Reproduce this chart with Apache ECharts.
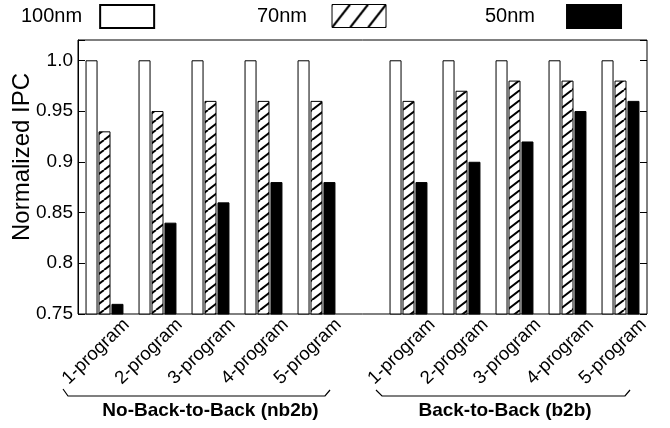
<!DOCTYPE html>
<html><head><meta charset="utf-8">
<script src="https://cdn.jsdelivr.net/npm/echarts@6/dist/echarts.min.js"></script>
<style>html,body{margin:0;padding:0;background:#fff}#c{width:670px;height:428px}</style>
</head><body><div id="c"></div>
<script>
// ---- data ----
const categories = ['1-program', '2-program', '3-program', '4-program', '5-program'];
const groupLabels = ['No-Back-to-Back (nb2b)', 'Back-to-Back (b2b)'];
const seriesNames = ['100nm', '70nm', '50nm'];
const nb2b_100nm = [1.00, 1.00, 1.00, 1.00, 1.00];
const nb2b_70nm  = [0.93, 0.95, 0.96, 0.96, 0.96];
const nb2b_50nm  = [0.76, 0.84, 0.86, 0.88, 0.88];
const b2b_100nm  = [1.00, 1.00, 1.00, 1.00, 1.00];
const b2b_70nm   = [0.96, 0.97, 0.98, 0.98, 0.98];
const b2b_50nm   = [0.88, 0.90, 0.92, 0.95, 0.96];
const yTickLabels = ['0.75', '0.8', '0.85', '0.9', '0.95', '1.0'];
const yName = 'Normalized IPC';
const yMin = 0.75, yMax = 1.02, yStep = 0.05;

// ---- styles ----
const FONT = 'Liberation Sans';
function hatch(w, h, lw) {
  const c = document.createElement('canvas'); c.width = w; c.height = h;
  const g = c.getContext('2d');
  g.fillStyle = '#fff'; g.fillRect(0, 0, w, h);
  g.strokeStyle = '#000'; g.lineWidth = lw;
  for (const dx of [-w, 0, w]) { g.beginPath(); g.moveTo(dx, h); g.lineTo(dx + w, 0); g.stroke(); }
  return c;
}
const barHatch = { image: hatch(13, 10, 2), repeat: 'repeat' };
const legendHatch = { image: hatch(18, 23, 2.2), repeat: 'repeat' };
const styles = [
  { color: '#fff', borderColor: '#000', borderWidth: 1 },
  { color: barHatch, borderColor: '#000', borderWidth: 1 },
  { color: '#000', borderColor: '#000', borderWidth: 1 }
];

const chart = echarts.init(document.getElementById('c'), null, { renderer: 'canvas' });

const G = { top: 40, bottom: 114 };
const grids = [
  { left: 78, width: 265, ...G },          // 0 nb2b bars
  { left: 382, right: 23, ...G },          // 1 b2b bars
  { left: 100, width: 265, ...G },         // 2 nb2b labels
  { left: 406, width: 265, ...G },         // 3 b2b labels
  { left: 78, right: 23, ...G, show: true, borderColor: '#000', borderWidth: 1, backgroundColor: 'transparent' }, // 4 frame
  { left: 78, right: 23, top: 40, bottom: 154 } // 5 y-name holder
];

function yLabelFmt(v) {
  const i = Math.round((v - yMin) / yStep);
  return (Math.abs(v - (yMin + i * yStep)) < 1e-6 && i >= 0 && i < yTickLabels.length) ? yTickLabels[i] : '';
}

const xBase = {
  type: 'category', data: categories,
  axisLine: { show: false }, axisTick: { show: false }, axisLabel: { show: false },
  nameLocation: 'middle', nameGap: 87,
  nameTextStyle: { fontFamily: FONT, fontWeight: 'bold', fontSize: 19, color: '#000' }
};
const xLabelAxis = {
  type: 'category', data: categories,
  axisLine: { show: false }, axisTick: { show: false },
  axisLabel: { interval: 0, rotate: 44, margin: 8, fontFamily: FONT, fontSize: 18.5, color: '#000' }
};
const yBase = {
  type: 'value', min: yMin, max: yMax, interval: yStep,
  splitLine: { show: false }
};

const xAxis = [
  { ...xBase, gridIndex: 0, name: groupLabels[0] },
  { ...xBase, gridIndex: 1, name: groupLabels[1], nameTextStyle: { ...xBase.nameTextStyle, padding: [0, 19, 0, 0] } },
  { ...xLabelAxis, gridIndex: 2 },
  { ...xLabelAxis, gridIndex: 3 },
  { type: 'category', data: categories, gridIndex: 4, show: false },
  { type: 'category', data: categories, gridIndex: 5, show: false }
];
const yAxis = [
  { ...yBase, gridIndex: 0, position: 'left',
    axisLine: { show: true, lineStyle: { color: '#000', width: 1 } },
    axisTick: { show: true, inside: true, length: 7, lineStyle: { color: '#000' } },
    axisLabel: { margin: 5, fontFamily: FONT, fontSize: 19, color: '#000', formatter: yLabelFmt } },
  { ...yBase, gridIndex: 1, position: 'right',
    axisLine: { show: false },
    axisTick: { show: true, inside: true, length: 7, lineStyle: { color: '#000' } },
    axisLabel: { show: false } },
  { ...yBase, gridIndex: 2, show: false },
  { ...yBase, gridIndex: 3, show: false },
  { ...yBase, gridIndex: 4, show: false },
  { ...yBase, gridIndex: 5, position: 'left',
    axisLine: { show: false }, axisTick: { show: false }, axisLabel: { show: false },
    name: yName, nameLocation: 'middle', nameGap: 44,
    nameTextStyle: { fontFamily: FONT, fontSize: 24, color: '#000' } }
];

const groupData = [[nb2b_100nm, nb2b_70nm, nb2b_50nm], [b2b_100nm, b2b_70nm, b2b_50nm]];
const series = [];
groupData.forEach((arrs, gi) => {
  arrs.forEach((vals, si) => {
    series.push({
      type: 'bar', name: seriesNames[si], data: vals,
      xAxisIndex: gi, yAxisIndex: gi,
      barWidth: 12, barGap: '8%',
      itemStyle: styles[si], emphasis: { disabled: true }, animation: false
    });
  });
});

const legendCommon = {
  top: 4, padding: 0, align: 'right', orient: 'horizontal', icon: 'rect',
  itemWidth: 54, itemHeight: 23, selectedMode: false
};
const legendPos = [{ left: 21, pad: 13 }, { left: 257, pad: 20 }, { left: 485, pad: 27 }];
const legend = seriesNames.map((n, i) => ({
  ...legendCommon, left: legendPos[i].left,
  data: [i === 1 ? { name: n, itemStyle: { color: legendHatch, borderColor: '#000', borderWidth: 1 } } : { name: n }],
  textStyle: { fontFamily: FONT, fontSize: 20, color: '#000', padding: [0, legendPos[i].pad, 0, 0] }
}));

chart.setOption({
  animation: false,
  backgroundColor: '#fff',
  textStyle: { fontFamily: FONT },
  grid: grids, xAxis, yAxis, series, legend,
  graphic: [
    { type: 'polyline', shape: { points: [[63, 389], [68, 396], [325, 396], [330, 390]] }, style: { stroke: '#000', lineWidth: 1.2, fill: null } },
    { type: 'polyline', shape: { points: [[376, 390], [382, 396], [625, 396], [630, 390]] }, style: { stroke: '#000', lineWidth: 1.2, fill: null } }
  ]
});
</script></body></html>
